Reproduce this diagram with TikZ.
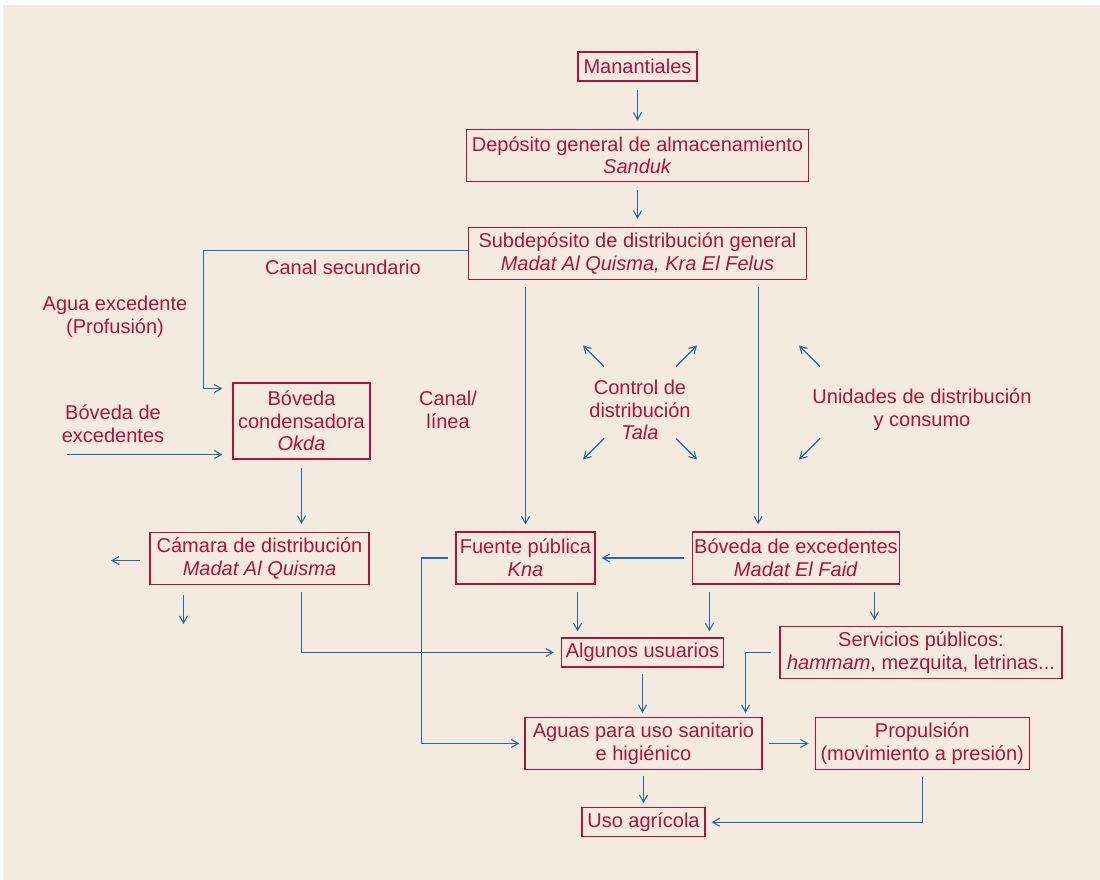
\documentclass[tikz,border=0pt]{standalone}
\usepackage{fontspec}
\setmainfont{Liberation Sans}
\usepackage{xcolor}
\usepackage{tikz}
\usetikzlibrary{arrows.meta,positioning,calc}

\definecolor{boxred}{RGB}{175,18,62}
\definecolor{lineblue}{RGB}{45,100,165}
\definecolor{paper}{RGB}{243,235,224}

\begin{document}
\begin{tikzpicture}[
  x=1pt, y=-1pt,
  font=\fontsize{20pt}{22.7pt}\selectfont,
  box/.style={rectangle, draw=boxred, line width=1.2pt, text=boxred,
              align=center, inner sep=2pt, minimum height=29pt},
  box2/.style={box, minimum height=52pt},
  lbl/.style={text=boxred, align=center},
  arr/.style={-{Straight Barb[length=7pt,width=8pt]}, draw=lineblue,
              line width=1.1pt, shorten <=8pt, shorten >=8pt}
]
\useasboundingbox (0,0) rectangle (1100,880);
\fill[white] (0,0) rectangle (1100,880);
\fill[paper] (3,5) rectangle (1100,880);

% boxes
\node[box, minimum width=119pt] (man) at (637.5,66.5) {Manantiales};
\node[box2, minimum width=342pt, below=47pt of man] (dep)
  {Depósito general de almacenamiento\\\textit{Sanduk}};
\node[box2, minimum width=338pt, below=45pt of dep] (sub)
  {Subdepósito de distribución general\\\textit{Madat Al Quisma, Kra El Felus}};
\node[box, minimum width=137pt, minimum height=76pt] (okda) at (301.5,421)
  {Bóveda\\condensadora\\\textit{Okda}};
\node[box2, minimum width=219pt] (cam) at (259.5,558.5)
  {Cámara de distribución\\\textit{Madat Al Quisma}};
\node[box2, minimum width=139pt] (fuente) at (525.5,558)
  {Fuente pública\\\textit{Kna}};
\node[box2, minimum width=206pt, right=96pt of fuente] (bov)
  {Bóveda de excedentes\\\textit{Madat El Faid}};
\node[box, minimum width=162pt] (usu) at (642.5,652.5) {Algunos usuarios};
\node[box2, minimum width=282pt] (serv) at (921,652.5)
  {Servicios públicos:\\\textit{hammam}, mezquita, letrinas...};
\node[box2, minimum width=237pt] (agu) at (643.5,743.5)
  {Aguas para uso sanitario\\e higiénico};
\node[box2, minimum width=214pt, right=52pt of agu] (prop)
  {Propulsión\\(movimiento a presión)};
\node[box, minimum width=123pt, below=37pt of agu] (agr) {Uso agrícola};

% free labels
\node[lbl] (cansec) at (343,267) {Canal secundario};
\node[lbl] (aguaexc) at (115,316.5) {Agua excedente\\(Profusión)};
\node[lbl] (bovexc) at (113,423.5) {Bóveda de\\excedentes};
\node[lbl] (canal) at (448,409.5) {Canal/\\línea};
\node[lbl] (tala) at (640,410) {Control de\\distribución\\\textit{Tala}};
\node[lbl] (unid) at (922,410) {Unidades de distribución\\y consumo};

% helper points
\coordinate (csbend) at (203.5,388.5);
\coordinate (bexin)  at (67,454.5);
\coordinate (camw)   at (111,560.5);
\coordinate (cams)   at (183.5,624);
\coordinate (fbend)  at (421.5,558);
\coordinate (bovtop) at ([xshift=66.5pt]bov.north west);
\coordinate (fu)     at ([xshift=52pt]fuente.south);
\coordinate (bu)     at ([xshift=-86.5pt]bov.south);
\coordinate (bs)     at ([xshift=78.5pt]bov.south);
\coordinate (sa)     at ([xshift=102pt]agu.north);
\coordinate (pr)     at ([xshift=0.5pt]prop.south);
\coordinate (talac)  at (640,402.5);
\coordinate (unidc)  at (856,402.5);

% connectors
\draw[arr] (man) -- (dep);
\draw[arr] (dep) -- (sub);
\draw[arr, shorten <=0pt, shorten >=10pt] ([yshift=2.5pt]sub.west) -| (csbend) -- (okda.west |- csbend);
\draw[arr, shorten <=0pt, shorten >=10pt] (bexin) -- (okda.west |- bexin);
\draw[arr, shorten <=7pt, shorten >=7pt] (sub.south -| fuente.north) -- (fuente.north);
\draw[arr, shorten <=7pt, shorten >=7pt] (sub.south -| bovtop) -- (bovtop);
\draw[arr] (okda.south) -- (okda.south |- cam.north);
\draw[arr, shorten <=9pt, shorten >=0pt] (cam.west |- camw) -- (camw);
\draw[arr, shorten <=10pt, shorten >=0pt] (cam.south -| cams) -- (cams);
\draw[arr, shorten <=7pt, shorten >=7pt] (cam.south -| okda.south) |- (usu.west);
\draw[arr, shorten <=8pt, shorten >=6pt] (bov.west) -- (fuente.east);
\draw[arr, shorten <=7pt, shorten >=5pt] (fuente.west) -- (fbend) |- (agu.west);
\draw[arr, shorten <=7pt, shorten >=6pt] (fu) -- (fu |- usu.north);
\draw[arr, shorten <=7pt, shorten >=6pt] (bu) -- (bu |- usu.north);
\draw[arr, shorten <=7pt, shorten >=6pt] (bs) -- (bs |- serv.north);
\draw[arr, shorten <=6pt, shorten >=4pt] (usu.south) -- (usu.south |- agu.north);
\draw[arr, shorten <=8pt, shorten >=4pt] (serv.west) -| (sa);
\draw[arr, shorten <=6pt, shorten >=6pt] (agu) -- (prop);
\draw[arr, shorten <=6pt, shorten >=4pt] (agu.south) -- (agr.north);
\draw[arr, shorten <=7pt, shorten >=6pt] (pr) |- (agr.east);

% diverging arrows
\foreach \n/\sx/\sy in {nw/-1/-1, ne/1/-1, sw/-1/1, se/1/1} {
  \draw[arr, shorten <=0pt, shorten >=0pt]
    ($(talac)+(\sx*36,\sy*36)$) -- ($(talac)+(\sx*57,\sy*57)$);
}
\foreach \sy in {-1,1} {
  \draw[arr, shorten <=0pt, shorten >=0pt]
    ($(unidc)+(-36,\sy*36)$) -- ($(unidc)+(-57,\sy*57)$);
}
\end{tikzpicture}
\end{document}
